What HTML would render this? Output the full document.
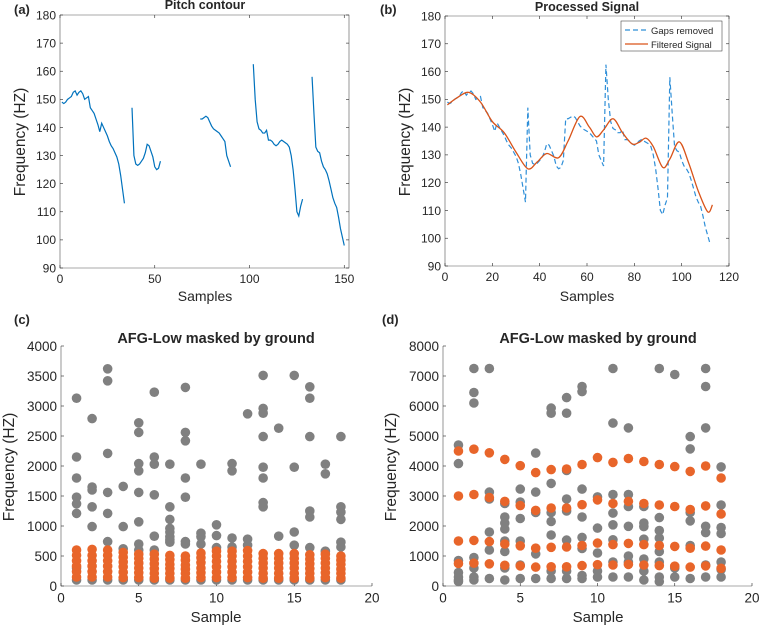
<!DOCTYPE html>
<html><head><meta charset="utf-8">
<style>
html,body{margin:0;padding:0;background:#fff;}
svg{display:block;font-family:"Liberation Sans",Arial,sans-serif;}
</style></head>
<body>
<svg id="fig" width="761" height="627" viewBox="0 0 761 627" xmlns="http://www.w3.org/2000/svg"></svg>
<script>
// ---------- Panel (a) data: pitch contour segments ----------
const segStartsA = [1, 38, 74, 102, 133];
const seg1 = [149,148.5,149,150,150.5,151,152.5,153,151.5,152.5,153,152,150,150.5,151,147,146,145,143,141,138.5,141.5,140,138.5,137,135,133.5,132.5,131,129.5,127,123,118,113];
const seg2 = [147,130,127,126.5,127,128,129,131,134,133.5,131.5,129.5,126,125,125.5,128];
const seg3 = [143,143,143.5,144,143.5,142,140.5,139.5,139,138.5,138,137,136,135,130,128,126];
const seg4 = [162.5,150,142,139.5,139,138,138,139,135.5,135.5,135,134,133.5,134,135,135.5,135,134.5,134,133,130,125,118,110,108.5,112,114.5];
const seg5 = [158,145,133,131.5,131,128,126,125,123.5,121,118,115,113,111.5,108,104,101,98];
// ---------- Panel (b) data: filtered signal knots ----------
const filtX = [1,5,10,15,20,25,30,35,39,43,48,52,57,61,64,67,71,75,79,82,85,88,92,95,99,103,107,111,113];
const filtY = [148,150.5,152.5,149,142,138,131,125,127.5,130.5,129,135,143.8,140,136.5,139,143,138,134,134.5,136,133,125.5,128.5,134.7,127,117,109.5,112];
// ---------- Panel (c) data ----------
const samplesC = [1,2,3,4,5,6,7,8,9,10,11,12,13,14,15,16,17,18];
const grayC = [
 [3130,2150,1800,1480,1370,1210,300,100],
 [2790,1650,1600,1320,990,100],
 [3620,3420,2210,1560,1210,740,100],
 [1660,990,620,100],
 [2720,2560,2040,1920,1560,1070,700,600,100],
 [3230,2150,2030,1520,830,600,100],
 [2030,1320,1110,960,900,820,770,730,100],
 [3310,2560,2420,1800,1480,740,700,100],
 [2030,880,820,700,100],
 [1020,840,640,100],
 [2040,1920,800,650,100],
 [2870,780,680,100],
 [3510,2960,2880,2490,1980,1800,1390,1320,100],
 [2630,830,100],
 [3510,1980,900,680,100],
 [3320,3130,2490,1250,1150,640,100],
 [2030,1870,580,100],
 [2490,1320,1230,1110,730,650,100]
];
const orangeC = [
 [150,240,330,420,510,600],[150,240,330,420,510,610],[150,240,330,420,510,600],
 [140,230,320,400,480,560],[140,220,300,380,460,530],[130,210,290,370,450,530],
 [130,210,290,360,440,510],[130,210,280,350,430,500],[140,220,300,390,470,550],
 [140,230,320,410,500,580],[140,230,320,410,500,580],[140,230,320,410,500,590],
 [130,210,300,380,460,540],[130,210,300,380,460,540],[130,210,300,380,460,540],
 [130,210,290,370,450,520],[140,220,300,380,460,530],[130,210,280,360,430,500]
];
// ---------- Panel (d) data ----------
const samplesD = [1,2,3,4,5,6,7,8,9,10,11,12,13,14,15,16,17,18];
const grayD = [
 [4700,4080,850,450,300,200,150],
 [7250,6450,6100,950,600,300,200],
 [7250,3130,2900,1800,1200,250],
 [2750,2300,2100,1900,1500,1150,600,200],
 [3230,2800,2250,1500,700,250],
 [4430,3130,2450,1070,250],
 [5930,5760,3420,2450,2150,1700,500,250],
 [6280,5760,3850,2900,2500,1530,500,250],
 [6650,6480,3230,2300,1620,1250,350,250],
 [2970,1930,1100,500,300],
 [7250,5430,3050,2430,2040,1540,800,300],
 [5270,3050,2650,1990,1000,800,300],
 [2650,2100,1980,1560,900,500,200],
 [7250,2280,1850,1600,1150,800,300,150],
 [7050,600,300],
 [4980,4570,2450,2170,1350,250],
 [7250,6650,5270,1990,1780,700,300],
 [3970,2700,1950,1750,800,550,300]
];
const orangeD1 = [4500,4560,4440,4220,4010,3780,3880,3900,4050,4280,4120,4250,4150,4050,3980,3820,4000,3600];
const orangeD2 = [3000,3050,2950,2820,2680,2520,2600,2600,2710,2870,2750,2820,2750,2700,2650,2550,2670,2400];
const orangeD3 = [1500,1520,1480,1400,1340,1260,1290,1300,1350,1430,1380,1420,1380,1350,1320,1260,1330,1200];
const orangeD4 = [750,760,740,690,670,630,640,640,680,710,700,720,700,680,660,630,670,590];
// ---------- tick labels ----------
const ticksAX = [0,50,100,150];
const ticksAY = [90,100,110,120,130,140,150,160,170,180];
const ticksBX = [0,20,40,60,80,100,120];
const ticksCX = [0,5,10,15,20];
const ticksCY = [0,500,1000,1500,2000,2500,3000,3500,4000];
const ticksDY = [0,1000,2000,3000,4000,5000,6000,7000,8000];

const NS = "http://www.w3.org/2000/svg";
const svg = document.getElementById('fig');
function mk(tag, parent){ const e=document.createElementNS(NS,tag); (parent||svg).appendChild(e); return e; }
function attrs(e,o){ for(const k in o) e.setAttribute(k,o[k]); return e; }
function txt(parent, s, x, y, size, anchor, weight, name){
  const t = mk('text', parent);
  attrs(t,{x:x,y:y,'font-size':size,'text-anchor':anchor||'middle','font-weight':weight||'normal',fill:'#262626'});
  t.textContent = s;
  
  
  return t;
}
function scale(d0,d1,p0,p1){ return v => p0 + (v-d0)/(d1-d0)*(p1-p0); }

function axes(g, cfg){
  const sx=scale(cfg.xmin,cfg.xmax,cfg.px0,cfg.px1), sy=scale(cfg.ymin,cfg.ymax,cfg.py0,cfg.py1);
  const a = mk('g', g);
  
  
  const pth = mk('path', a);
  let d = `M${cfg.px0},${cfg.py1}V${cfg.py0}H${cfg.px1}`;
  if(cfg.box) d += `V${cfg.py1}H${cfg.px0}`;
  attrs(pth,{d:d,fill:'none',stroke:'#262626','stroke-width':0.6,opacity:0.8});
  
  
  cfg.xt.forEach(v=>{
    const x=sx(v);
    const l=mk('line',a); attrs(l,{x1:x,x2:x,y1:cfg.py0,y2:cfg.py0-3,stroke:'#262626','stroke-width':0.6});
    
    
    if(cfg.box){ const l2=mk('line',a); attrs(l2,{x1:x,x2:x,y1:cfg.py1,y2:cfg.py1+3,stroke:'#262626','stroke-width':0.6});
      
       }
    txt(a, String(v), x, cfg.py0+cfg.fs+3, cfg.fs, 'middle', 'normal', 'x-tick-label');
  });
  cfg.yt.forEach(v=>{
    const y=sy(v);
    const l=mk('line',a); attrs(l,{x1:cfg.px0,x2:cfg.px0+3,y1:y,y2:y,stroke:'#262626','stroke-width':0.6});
    
    
    if(cfg.box){ const l2=mk('line',a); attrs(l2,{x1:cfg.px1,x2:cfg.px1-3,y1:y,y2:y,stroke:'#262626','stroke-width':0.6});
      
       }
    txt(a, String(v), cfg.px0-4, y+cfg.fs*0.36, cfg.fs, 'end', 'normal', 'y-tick-label');
  });
  return {sx,sy};
}
function polyline(g, xs, ys, s, color, dash, name){
  const p = mk('path', g);
  const d = xs.map((x,i)=>(i?'L':'M')+s.sx(x).toFixed(2)+','+s.sy(ys[i]).toFixed(2)).join('');
  attrs(p,{d:d,fill:'none',stroke:color,'stroke-width':1.2});
  if(dash) p.setAttribute('stroke-dasharray', dash);
  
  
  return p;
}
function smoothPath(g, xs, ys, s, color, name){
  const P = xs.map((x,i)=>[s.sx(x), s.sy(ys[i])]);
  let d = `M${P[0][0]},${P[0][1]}`;
  for(let i=0;i<P.length-1;i++){
    const p0=P[i-1]||P[i], p1=P[i], p2=P[i+1], p3=P[i+2]||P[i+1];
    const c1=[p1[0]+(p2[0]-p0[0])/6, p1[1]+(p2[1]-p0[1])/6];
    const c2=[p2[0]-(p3[0]-p1[0])/6, p2[1]-(p3[1]-p1[1])/6];
    d += `C${c1[0].toFixed(2)},${c1[1].toFixed(2)} ${c2[0].toFixed(2)},${c2[1].toFixed(2)} ${p2[0].toFixed(2)},${p2[1].toFixed(2)}`;
  }
  const p = mk('path', g);
  attrs(p,{d:d,fill:'none',stroke:color,'stroke-width':1.3});
  
  
}
function dot(g, x, y, s, color, name){
  const c = mk('circle', g);
  attrs(c,{cx:s.sx(x).toFixed(2), cy:s.sy(y).toFixed(2), r:4.8, fill:color});
  
  
}

const BLUE='#0072BD', ORANGE='#E8652A', ORANGE2='#D95319', GRAY='#808080';

// ---------- Panel A ----------
const gA = mk('g');


const sA = axes(gA,{px0:60,px1:349,py0:268,py1:15,xmin:0,xmax:152.5,ymin:90,ymax:180,xt:ticksAX,yt:ticksAY,box:true,fs:12});
[seg1,seg2,seg3,seg4,seg5].forEach((seg,k)=>{
  const xs = seg.map((_,i)=>segStartsA[k]+i);
  polyline(gA, xs, seg, sA, BLUE, null, 'pitch-segment-'+(k+1));
});
txt(gA,'Pitch contour',205,9,12.5,'middle','bold','panel-a-title');
txt(gA,'(a)',14,14,13,'start','bold','panel-a-label');
txt(gA,'Samples',205,301,14,'middle','normal','panel-a-x-axis-title');
const yA = txt(gA,'Frequency (HZ)',0,0,15.5,'middle','normal','panel-a-y-axis-title');
yA.setAttribute('transform','translate(25,142) rotate(-90)');

// ---------- Panel B ----------
const gB = mk('g');


const sB = axes(gB,{px0:445,px1:729,py0:266,py1:16,xmin:0,xmax:120,ymin:90,ymax:180,xt:ticksBX,yt:ticksAY,box:true,fs:12});
const gapsY = [].concat(seg1,seg2,seg3,seg4,seg5);
const gapsX = gapsY.map((_,i)=>i+1);
polyline(gB, gapsX, gapsY, sB, '#2F8FD8', '5,3', 'gaps-removed-line');
smoothPath(gB, filtX, filtY, sB, ORANGE2, 'filtered-signal-line');
txt(gB,'Processed Signal',587,11,12.5,'middle','bold','panel-b-title');
txt(gB,'(b)',380,14,13,'start','bold','panel-b-label');
txt(gB,'Samples',587,301,14,'middle','normal','panel-b-x-axis-title');
const yB = txt(gB,'Frequency (HZ)',0,0,15.5,'middle','normal','panel-b-y-axis-title');
yB.setAttribute('transform','translate(410,142) rotate(-90)');
const lg = mk('g', gB);


const lb = mk('rect', lg); attrs(lb,{x:621,y:21,width:101,height:30,fill:'#fff',stroke:'#262626','stroke-width':0.5});


const l1 = mk('line', lg); attrs(l1,{x1:625,x2:648,y1:30,y2:30,stroke:'#2F8FD8','stroke-width':1.2,'stroke-dasharray':'5,3'});


const l2 = mk('line', lg); attrs(l2,{x1:625,x2:648,y1:44,y2:44,stroke:ORANGE2,'stroke-width':1.3});


txt(lg,'Gaps removed',651,34,9.5,'start','normal','legend-entry-gaps');
txt(lg,'Filtered Signal',651,48,9.5,'start','normal','legend-entry-filtered');

// ---------- Panel C ----------
const gC = mk('g');


const sC = axes(gC,{px0:61,px1:372,py0:586,py1:346,xmin:0,xmax:20,ymin:0,ymax:4000,xt:ticksCX,yt:ticksCY,box:false,fs:13.5});
samplesC.forEach((x,i)=>{ grayC[i].forEach(v=>dot(gC,x,v,sC,GRAY,'gray-point')); });
samplesC.forEach((x,i)=>{ orangeC[i].forEach(v=>dot(gC,x,v,sC,ORANGE,'orange-point')); });
txt(gC,'AFG-Low masked by ground',216,343,14.5,'middle','bold','panel-c-title');
txt(gC,'(c)',14,324,13,'start','bold','panel-c-label');
txt(gC,'Sample',216,622,15,'middle','normal','panel-c-x-axis-title');
const yC = txt(gC,'Frequency (HZ)',0,0,15.5,'middle','normal','panel-c-y-axis-title');
yC.setAttribute('transform','translate(14,467) rotate(-90)');

// ---------- Panel D ----------
const gD = mk('g');


const sD = axes(gD,{px0:443,px1:752,py0:586,py1:346,xmin:0,xmax:20,ymin:0,ymax:8000,xt:ticksCX,yt:ticksDY,box:false,fs:13.5});
samplesD.forEach((x,i)=>{ grayD[i].forEach(v=>dot(gD,x,v,sD,GRAY,'gray-point')); });
[orangeD1,orangeD2,orangeD3,orangeD4].forEach(row=>{
  samplesD.forEach((x,i)=>dot(gD,x,row[i],sD,ORANGE,'orange-point'));
});
txt(gD,'AFG-Low masked by ground',598,343,14.5,'middle','bold','panel-d-title');
txt(gD,'(d)',382,324,13,'start','bold','panel-d-label');
txt(gD,'Sample',598,622,15,'middle','normal','panel-d-x-axis-title');
const yD = txt(gD,'Frequency (HZ)',0,0,15.5,'middle','normal','panel-d-y-axis-title');
yD.setAttribute('transform','translate(396,467) rotate(-90)');
</script>
</body></html>
